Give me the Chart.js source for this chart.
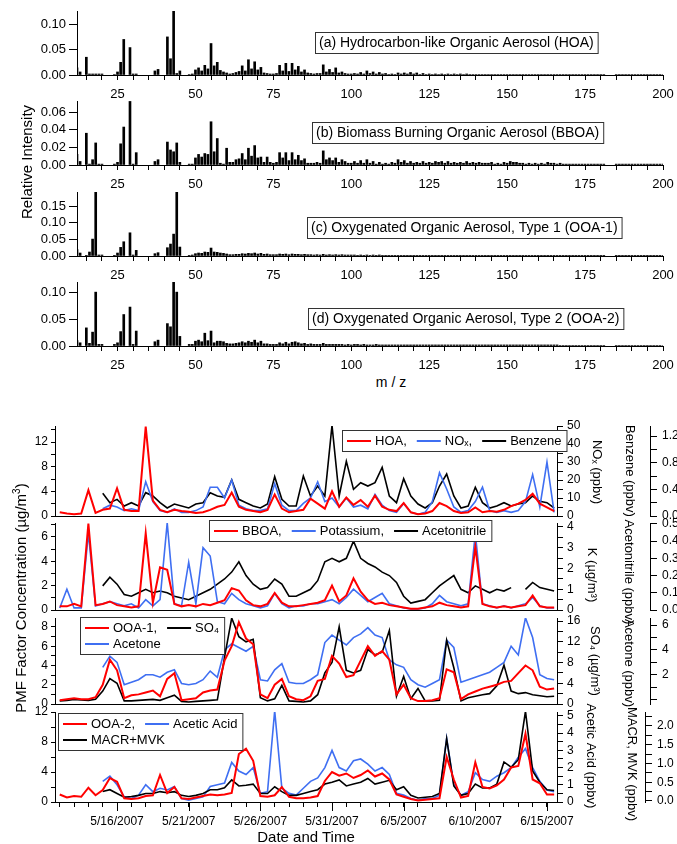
<!DOCTYPE html>
<html>
<head>
<meta charset="utf-8">
<script src="https://cdn.jsdelivr.net/npm/chart.js@4.4.0/dist/chart.umd.min.js"></script>
<style>
  body { margin: 0; background: #fff; }
  #wrap { position: relative; width: 677px; height: 844px; overflow: hidden; font-family: "Liberation Sans", Arial, sans-serif; }
  canvas { position: absolute; left: 0; }
  .lbl { position: absolute; white-space: nowrap; color: #000; transform: translate(-50%, -50%); z-index: 5; }
  .rot { transform: translate(-50%, -50%) rotate(-90deg); }
  .lbl sup { font-size: 10px; }
</style>
</head>
<body>
<div id="wrap">
  <div class="lbl rot" style="left:26px;top:162px;font-size:15px">Relative Intensity</div>
  <div class="lbl" style="left:391px;top:382px;font-size:14px">m / z</div>
  <div class="lbl rot" style="left:20px;top:598px;font-size:15px">PMF Factor Concentration (µg/m<sup>3</sup>)</div>
  <div class="lbl" style="left:306px;top:836px;font-size:15px">Date and Time</div>
</div>
<script>
const FONT = '"Liberation Sans", Arial, sans-serif';
Chart.defaults.font.family = FONT;
Chart.defaults.color = '#000';

const RED = '#ff0000', BLUE = '#3f6ff2', BLACK = '#000000';

// ---- mass spectra, m/z 12..200 ----
const mzFirst = 12;
const mzTicks = [25, 50, 75, 100, 125, 150, 175, 200];

const hoaSpec = [
  0.014, 0.006, null, 0.035, 0.002, 0.002, 0.002, 0.002, 0.002, null,
  null, null, 0.001, 0.006, 0.025, 0.070, null, 0.054, 0.002, 0.002,
  null, null, null, null, null, 0.008, 0.011, null, null, 0.075,
  0.032, 0.126, 0.003, 0.008, null, null, 0.001, 0.002, 0.010, 0.014,
  0.008, 0.019, 0.012, 0.062, 0.018, 0.025, 0.009, 0.006, 0.004, 0.002,
  0.003, 0.005, 0.007, 0.018, 0.008, 0.030, 0.012, 0.026, 0.010, 0.015,
  0.004, 0.003, 0.002, 0.002, 0.003, 0.019, 0.008, 0.023, 0.007, 0.023,
  0.010, 0.017, 0.006, 0.010, 0.004, 0.003, 0.002, 0.003, 0.003, 0.020,
  0.006, 0.011, 0.005, 0.014, 0.004, 0.006, 0.003, 0.002, 0.002, 0.003,
  0.002, 0.005, 0.002, 0.008, 0.003, 0.006, 0.002, 0.005, 0.002, 0.003,
  0.001, 0.002, 0.001, 0.004, 0.002, 0.004, 0.002, 0.005, 0.002, 0.004,
  0.001, 0.003, 0.001, 0.002, 0.001, 0.002, 0.001, 0.002, 0.001, 0.002,
  0.001, 0.002, 0.001, 0.002, 0.001, 0.002, 0.001, 0.001, 0.001, 0.001,
  0.001, 0.001, 0.001, 0.001, 0.001, 0.001, 0.001, 0.001, 0.001, 0.001,
  0.001, 0.001, 0.001, 0.001, 0.001, 0.001, 0.001, 0.001, 0.001, 0.001,
  0.001, 0.001, 0.001, 0.001, 0.001, 0.001, 0.001, 0.001, 0.001, 0.001,
  0.001, 0.001, 0.001, 0.001, 0.001, 0.001, 0.001, 0.001, 0.001, 0.001,
  null, null, null, 0.001, 0.001, 0.001, 0.001, 0.001, 0.001, 0.001,
  0.001, 0.001, 0.001, 0.001, 0.001, 0.001, 0.001, 0.001, 0.001
];

const bboaSpec = [
  0.012, 0.004, null, 0.036, 0.001, 0.006, 0.025, 0.001, 0.001, null,
  null, null, 0.001, 0.003, 0.024, 0.043, null, 0.072, 0.001, 0.014,
  null, null, null, null, null, 0.004, 0.006, null, null, 0.026,
  0.017, 0.015, 0.025, 0.003, null, null, 0.001, 0.001, 0.008, 0.012,
  0.009, 0.013, 0.012, 0.049, 0.015, 0.030, 0.002, 0.001, 0.019, 0.003,
  0.003, 0.006, 0.007, 0.013, 0.006, 0.019, 0.010, 0.022, 0.008, 0.009,
  0.003, 0.009, 0.003, 0.002, 0.003, 0.014, 0.008, 0.014, 0.005, 0.014,
  0.006, 0.011, 0.005, 0.007, 0.002, 0.002, 0.002, 0.003, 0.002, 0.016,
  0.006, 0.008, 0.005, 0.008, 0.003, 0.006, 0.004, 0.002, 0.002, 0.004,
  0.002, 0.005, 0.002, 0.006, 0.002, 0.004, 0.001, 0.003, 0.001, 0.002,
  0.001, 0.003, 0.002, 0.006, 0.003, 0.005, 0.002, 0.004, 0.002, 0.003,
  0.002, 0.004, 0.002, 0.003, 0.002, 0.004, 0.003, 0.004, 0.002, 0.004,
  0.002, 0.003, 0.002, 0.003, 0.002, 0.004, 0.002, 0.003, 0.002, 0.003,
  0.002, 0.002, 0.002, 0.003, 0.001, 0.002, 0.001, 0.003, 0.002, 0.004,
  0.003, 0.003, 0.002, 0.002, 0.001, 0.002, 0.001, 0.002, 0.001, 0.002,
  0.001, 0.003, 0.002, 0.002, 0.001, 0.002, 0.001, 0.001, 0.001, 0.001,
  0.001, 0.001, 0.001, 0.001, 0.001, 0.001, 0.001, 0.001, 0.001, 0.001,
  null, null, null, 0.001, 0.001, 0.001, 0.001, 0.001, 0.001, 0.001,
  0.001, 0.001, 0.001, 0.001, 0.001, 0.001, 0.001, 0.001, 0.001
];

const ooa1Spec = [
  0.019, 0.009, null, 0.002, 0.012, 0.051, 0.193, 0.003, 0.003, null,
  null, null, 0.002, 0.009, 0.026, 0.043, null, 0.070, 0.003, 0.017,
  null, null, null, null, null, 0.007, 0.010, null, null, 0.025,
  0.036, 0.066, 0.193, 0.027, null, null, 0.002, 0.003, 0.007, 0.009,
  0.008, 0.012, 0.011, 0.024, 0.012, 0.011, 0.009, 0.008, 0.006, 0.004,
  0.004, 0.005, 0.005, 0.007, 0.006, 0.008, 0.007, 0.009, 0.006, 0.008,
  0.005, 0.006, 0.004, 0.004, 0.004, 0.006, 0.005, 0.006, 0.004, 0.006,
  0.005, 0.005, 0.004, 0.005, 0.004, 0.004, 0.003, 0.004, 0.003, 0.005,
  0.003, 0.004, 0.003, 0.004, 0.003, 0.004, 0.003, 0.003, 0.003, 0.003,
  0.002, 0.003, 0.002, 0.003, 0.002, 0.003, 0.002, 0.003, 0.002, 0.002,
  0.002, 0.002, 0.002, 0.002, 0.002, 0.002, 0.002, 0.002, 0.002, 0.002,
  0.002, 0.002, 0.002, 0.002, 0.002, 0.002, 0.002, 0.002, 0.002, 0.002,
  0.002, 0.002, 0.002, 0.002, 0.002, 0.002, 0.002, 0.002, 0.002, 0.002,
  0.002, 0.002, 0.002, 0.002, 0.002, 0.002, 0.002, 0.002, 0.002, 0.002,
  0.002, 0.002, 0.002, 0.002, 0.002, 0.001, 0.002, 0.001, 0.002, 0.001,
  0.001, 0.001, 0.001, 0.001, 0.001, 0.001, 0.001, 0.001, 0.001, 0.001,
  0.001, 0.001, 0.001, 0.001, 0.001, 0.001, 0.001, 0.001, 0.001, 0.001,
  null, null, null, 0.001, 0.001, 0.001, 0.001, 0.001, 0.001, 0.001,
  0.001, 0.001, 0.001, 0.001, 0.001, 0.001, 0.001, 0.001, 0.001
];

const ooa2Spec = [
  0.010, 0.006, null, 0.034, 0.005, 0.026, 0.101, 0.003, 0.003, null,
  null, null, 0.003, 0.006, 0.027, 0.059, null, 0.073, 0.003, 0.028,
  null, null, null, null, null, 0.008, 0.011, null, null, 0.042,
  0.036, 0.121, 0.101, 0.018, null, null, 0.003, 0.003, 0.009, 0.011,
  0.008, 0.024, 0.010, 0.028, 0.006, 0.009, 0.009, 0.008, 0.005, 0.004,
  0.004, 0.005, 0.006, 0.008, 0.006, 0.009, 0.007, 0.011, 0.006, 0.009,
  0.004, 0.004, 0.003, 0.003, 0.003, 0.006, 0.004, 0.007, 0.004, 0.007,
  0.008, 0.006, 0.004, 0.005, 0.003, 0.004, 0.003, 0.003, 0.003, 0.005,
  0.003, 0.003, 0.003, 0.003, 0.003, 0.003, 0.002, 0.003, 0.002, 0.003,
  0.003, 0.002, 0.003, 0.002, 0.002, 0.002, 0.003, 0.002, 0.002, 0.002,
  0.002, 0.002, 0.002, 0.002, 0.002, 0.002, 0.002, 0.002, 0.002, 0.002,
  0.002, 0.002, 0.002, 0.002, 0.002, 0.002, 0.002, 0.002, 0.002, 0.002,
  0.002, 0.002, 0.002, 0.002, 0.002, 0.002, 0.002, 0.002, 0.002, 0.002,
  0.002, 0.002, 0.002, 0.002, 0.002, 0.002, 0.002, 0.002, 0.002, 0.002,
  0.002, 0.002, 0.002, 0.002, 0.002, 0.002, 0.002, 0.002, 0.002, 0.002,
  0.002, 0.002, 0.002, 0.002, 0.002, 0.001, 0.001, 0.001, 0.001, 0.001,
  0.001, 0.001, 0.001, 0.001, 0.001, 0.001, 0.001, 0.001, 0.001, 0.001,
  null, null, null, 0.001, 0.001, 0.001, 0.001, 0.001, 0.001, 0.001,
  0.001, 0.001, 0.001, 0.001, 0.001, 0.001, 0.001, 0.001, 0.001
];

const mz = hoaSpec.map((_, i) => mzFirst + i);

// ---- time series, days from 5/16/2007 00:00 ----
const days = [-4, -3.5, -3, -2.5, -2, -1.5, -1, -0.5, 0, 0.5, 1, 1.5, 2, 2.5, 3, 3.5, 4, 4.5, 5, 5.5,
  6, 6.5, 7, 7.5, 8, 8.5, 9, 9.5, 10, 10.5, 11, 11.5, 12, 12.5, 13, 13.5, 14, 14.5, 15, 15.5,
  16, 16.5, 17, 17.5, 18, 18.5, 19, 19.5, 20, 20.5, 21, 21.5, 22, 22.5, 23, 23.5, 24, 24.5, 25, 25.5,
  26, 26.5, 27, 27.5, 28, 28.5, 29, 29.5, 30, 30.5];
const dateTicks = [0, 5, 10, 15, 20, 25, 30];
const dateLabels = ['5/16/2007', '5/21/2007', '5/26/2007', '5/31/2007', '6/5/2007', '6/10/2007', '6/15/2007'];

const hoa = [0.6, 0.4, 0.3, 0.4, 4.2, 0.5, 1.0, 1.2, 4.5, 1.0,
  0.8, 0.8, 14.5, 2.5, 1.0, 0.6, 1.0, 0.8, 0.7, 0.5,
  0.6, 1.0, 1.5, 1.8, 3.8, 1.5, 1.0, 0.8, 0.6, 1.0,
  3.5, 1.2, 0.6, 0.8, 1.0, 2.8, 2.0, 1.2, 4.0, 1.5,
  3.0, 1.8, 2.6, 1.5, 3.3, 1.5, 1.0, 0.8, 2.1, 0.6,
  0.3, 0.4, 0.8, 2.1, 1.6, 0.8, 0.5, 0.6, 1.4, 0.6,
  0.8, 0.7, 1.0, 1.6, 2.0, 2.6, 3.6, 2.0, 1.4, 0.8];
const nox = [null, null, null, null, null, null, 4, 6, 5, 3,
  4, 3, 19, 8, 3, 2, 4, 2, 2, 3,
  5, 16, 16, 10, 20, 6, 4, 3, 3, 4,
  18, 6, 3, 3, 7, 10, 19, 8, 10, 5,
  10, 5, 6, 4, 12, 6, 3, 2, 7, 2,
  1, 2, 8, 24, 15, 5, 2, 3, 8, 16,
  3, 2, 3, 2, 3, 8, 23, 5, 30, 2];
const benzene = [null, null, null, null, null, null, 0.34, 0.2, 0.25, 0.15,
  0.2, 0.15, 0.35, 0.3, 0.2, 0.12, 0.18, 0.15, 0.12, 0.18,
  0.2, 0.35, 0.3, 0.28, 0.54, 0.25, 0.2, 0.15, 0.12, 0.18,
  0.59, 0.25, 0.15, 0.15, 0.6, 0.3, 0.45, 0.3, 1.36, 0.3,
  0.82, 0.4, 0.5, 0.45, 0.5, 0.73, 0.3, 0.2, 0.56, 0.3,
  0.18, 0.12, 0.2, 0.45, 0.63, 0.3, 0.12, 0.15, 0.43, 0.2,
  0.12, 0.15, 0.2, 0.15, 0.18, 0.2, 0.3, 0.22, 0.2, 0.12];

const bboa = [0.3, 0.3, 0.5, 0.3, 7.1, 0.4, 0.5, 0.7, 0.4, 0.3,
  0.2, 0.3, 6.3, 0.6, 3.5, 3.3, 0.5, 0.3, 0.4, 0.3,
  0.5, 0.4, 0.6, 0.8, 1.8, 1.6, 0.8, 0.4, 0.3, 0.5,
  1.4, 0.6, 0.3, 0.3, 0.4, 0.5, 0.6, 0.8, 2.0, 0.7,
  1.2, 2.6, 1.5, 0.8, 0.5, 0.6, 0.4, 0.3, 0.2, 0.1,
  0.1, 0.2, 0.3, 0.6, 0.4, 0.3, 0.2, 0.3, 5.2, 0.5,
  0.3, 0.2, 0.3, 0.2, 0.3, 0.4, 1.2, 0.3, 0.2, 0.2];
const potassium = [0.1, 1.0, 0.1, 0.1, 3.7, 0.2, 0.3, 0.4, 0.3, 0.2,
  0.3, 0.1, 0.5, 0.2, 0.5, 4.2, 0.3, 0.2, 2.3, 0.3,
  3.0, 2.6, 0.4, 0.3, 0.8, 0.5, 0.3, 0.2, 0.1, 0.2,
  0.8, 0.3, 0.1, 0.2, 0.2, 0.3, 0.3, 0.4, 0.5, 0.3,
  0.6, 1.0, 0.7, 0.4, 0.6, 0.8, 0.3, 0.2, 0.1, 0.05,
  0.05, 0.1, 0.3, 0.7, 0.4, 0.3, 0.2, 0.3, 3.7, 0.3,
  0.2, 0.1, 0.2, 0.1, 0.2, 0.3, 0.6, 0.2, 0.1, 0.1];
const acetonitrile = [null, null, null, null, null, null, 0.14, 0.19, 0.15, 0.09,
  0.08, 0.1, 0.12, 0.1, 0.11, 0.1, 0.08, 0.07, 0.06, 0.08,
  0.1, 0.12, 0.15, 0.18, 0.22, 0.28, 0.2, 0.15, 0.12, 0.13,
  0.18, 0.15, 0.08, 0.08, 0.1, 0.12, 0.17, 0.28, 0.3, 0.28,
  0.3, 0.4, 0.3, 0.27, 0.25, 0.22, 0.2, 0.16, 0.08, 0.04,
  0.05, 0.06, 0.1, 0.14, 0.17, 0.2, 0.12, 0.1, 0.14, 0.12,
  0.1, 0.12, 0.11, 0.13, null, 0.12, 0.16, 0.13, 0.12, 0.11];

const ooa1 = [0.4, 0.5, 0.6, 0.5, 0.5, 0.7, 2.0, 4.6, 3.5, 0.6,
  0.9, 1.0, 1.2, 1.4, 0.8, 2.6, 3.2, 0.4, 0.5, 0.6,
  1.2, 1.4, 1.5, 4.5, 6.0, 8.5, 6.8, 6.2, 1.0, 0.6,
  2.0, 2.6, 0.8, 0.5, 0.4, 0.8, 2.4, 2.6, 5.0, 4.2,
  2.8, 3.0, 4.5, 6.0, 5.0, 5.5, 4.6, 1.0, 2.0, 0.6,
  0.3, 0.3, 0.4, 0.6, 3.6, 3.3, 0.5, 1.0, 1.3, 1.6,
  1.8, 2.0, 2.3, 2.4, 3.2, 4.0, 3.5, 1.8, 1.5, 1.6];
const so4 = [0.6, 0.7, 0.9, 0.8, 0.7, 0.9, 2.5, 4.9, 4.0, 0.6,
  0.6, 0.7, 0.8, 0.9, 0.7, 1.2, 1.7, 0.5, 0.4, 0.5,
  0.6, 0.7, 0.8, 9.0, 16.6, 13.0, 12.0, 12.5, 1.2, 0.6,
  1.0, 3.6, 0.6, 0.5, 0.4, 0.6, 1.8, 6.0, 8.0, 14.9,
  6.5, 6.0, 6.5, 10.5, 9.5, 10.0, 14.2, 1.5, 5.3, 1.0,
  3.0, 0.6, 0.6, 0.7, 12.3, 7.0, 0.6, 1.2, 1.5, 1.8,
  2.0, 3.5, 7.5, 2.5, 2.0, 2.2, 1.8, 1.6, 1.4, 1.5];
const acetone = [null, null, null, null, null, null, 2.6, 3.5, 3.0, 1.2,
  1.4, 1.6, 2.0, 2.0, 1.8, 2.2, 2.4, 1.3, 1.2, 1.3,
  1.6, 2.3, 1.8, 4.0, 4.5, 4.2, 3.9, 4.3, 1.6, 1.5,
  2.4, 2.9, 1.4, 1.3, 1.3, 1.6, 2.0, 4.6, 5.2, 4.8,
  4.4, 5.0, 5.3, 5.8, 5.2, 5.0, 3.2, 2.8, 2.6, 1.6,
  1.2, 1.0, 1.3, 1.6, 4.8, 4.2, 1.4, 1.6, 1.8, 2.0,
  2.2, 2.6, 3.0, 4.3, 3.6, 6.6, 5.0, 2.0, 1.7, 1.6];

const ooa2 = [1.0, 0.6, 0.8, 0.7, 1.9, 0.9, 1.6, 3.2, 2.7, 0.5,
  0.4, 0.5, 0.8, 0.9, 3.6, 1.2, 2.0, 0.5, 0.4, 0.6,
  0.8, 1.0, 0.9, 1.0, 1.2, 6.4, 7.1, 5.5, 0.8, 0.7,
  0.9, 2.0, 0.7, 0.5, 0.5, 0.6, 0.8, 2.8, 4.0, 3.5,
  3.8, 3.2, 3.6, 4.2, 3.4, 3.8, 3.0, 1.0, 0.7, 0.4,
  0.2, 0.3, 0.4, 0.5, 6.0, 3.0, 0.6, 0.8, 5.3, 2.0,
  1.8, 2.2, 3.0, 4.6, 4.8, 9.1, 3.0, 2.5, 1.0, 1.0];
const aceticAcid = [null, null, null, null, null, null, 1.2, 1.5, 1.0, 0.3,
  0.2, 0.4, 1.0, 0.6, 0.8, 0.7, 0.9, 0.2, 0.1, 0.2,
  0.3, 0.9, 1.0, 1.1, 2.3, 1.8, 1.6, 2.0, 0.5, 0.6,
  5.3, 0.8, 0.5, 0.4, 0.8, 1.2, 1.4, 2.0, 3.0, 2.0,
  1.8, 2.4, 2.5, 2.2, 1.8, 2.0, 1.6, 0.5, 0.4, 0.2,
  0.1, 0.2, 0.2, 0.4, 3.7, 1.0, 0.4, 0.6, 1.7, 1.3,
  1.2, 1.5, 1.7, 2.0, 2.6, 3.1, 2.0, 1.2, 0.7, 0.6];
const macrMvk = [null, null, null, null, null, null, 0.25, 0.3, 0.2, 0.1,
  0.12, 0.15, 0.2, 0.2, 0.25, 0.22, 0.25, 0.15, 0.12, 0.15,
  0.2, 0.3, 0.3, 0.35, 0.56, 0.4, 0.42, 0.45, 0.2, 0.2,
  0.38, 0.25, 0.15, 0.15, 0.2, 0.25, 0.3, 0.45, 0.5, 0.56,
  0.4, 0.45, 0.5, 0.6, 0.45, 0.5, 0.55, 0.3, 0.38, 0.15,
  0.08, 0.1, 0.12, 0.2, 1.66, 0.4, 0.15, 0.2, 0.45, 0.35,
  0.35, 0.45, 1.04, 0.9, 1.1, 2.39, 0.8, 0.5, 0.3, 0.28];

// ---- helpers ----
function onStep(v, step) {
  return Math.abs(v / step - Math.round(v / step)) < 1e-6;
}

// tick positions at whole multiples of step inside [min, max]
function stepTicks(min, max, step) {
  const list = [];
  for (let k = Math.ceil(min / step - 1e-9); k * step <= max + 1e-9; k++) {
    list.push({ value: Number((k * step).toFixed(6)) });
  }
  return list;
}

function yScale(o) {
  return {
    type: 'linear', position: o.pos, min: o.min, max: o.max, bounds: 'data',
    ticks: {
      autoSkip: false, padding: o.pad, font: { size: o.fs },
      callback: v => (onStep(v, o.lab) && !(o.skip0 && v === 0)) ? v.toFixed(o.dec) : ''
    },
    grid: { drawOnChartArea: false, drawTicks: true, tickLength: o.tl, tickColor: '#000' },
    border: { display: true, color: '#000', width: 1 },
    afterBuildTicks: s => { s.ticks = stepTicks(o.min, o.max, o.step); },
    afterFit: s => { s.width = o.w; s.paddingTop = 0; s.paddingBottom = 0; }
  };
}

// titles, legend boxes, spectrum captions and long date ticks are drawn here
function extras(cfg) {
  return {
    id: 'extras',
    afterDraw(chart) {
      const ctx = chart.ctx;
      if (cfg.majorTicks) {
        const s = chart.scales.x;
        ctx.save();
        ctx.strokeStyle = '#000';
        ctx.lineWidth = 1;
        cfg.majorTicks.forEach(v => {
          const x = Math.round(s.getPixelForValue(v)) + 0.5;
          ctx.beginPath();
          ctx.moveTo(x, s.top);
          ctx.lineTo(x, s.top + 9);
          ctx.stroke();
        });
        ctx.restore();
      }
      (cfg.titles || []).forEach(t => {
        ctx.save();
        ctx.translate(t.x, t.y);
        ctx.rotate(Math.PI / 2);
        ctx.font = '13px ' + FONT;
        ctx.fillStyle = '#000';
        ctx.textAlign = 'center';
        ctx.textBaseline = 'middle';
        ctx.fillText(t.text, 0, 0);
        ctx.restore();
      });
      if (cfg.note) {
        const n = cfg.note;
        ctx.save();
        ctx.font = '14px ' + FONT;
        const w = ctx.measureText(n.text).width + 8;
        ctx.fillStyle = '#fff';
        ctx.fillRect(n.x, n.y, w, 21);
        ctx.strokeStyle = '#333';
        ctx.lineWidth = 1;
        ctx.strokeRect(n.x + 0.5, n.y + 0.5, w, 21);
        ctx.fillStyle = '#000';
        ctx.textBaseline = 'middle';
        ctx.fillText(n.text, n.x + 4, n.y + 11.5);
        ctx.restore();
      }
      if (cfg.legend) {
        const L = cfg.legend;
        ctx.save();
        ctx.font = '13px ' + FONT;
        const widths = L.rows.map(r => r.reduce((s, e) => s + 28 + ctx.measureText(e.text).width + 10, 0) - 10);
        const W = Math.max(...widths) + 10, H = L.rows.length * 16 + 5;
        ctx.fillStyle = '#fff';
        ctx.fillRect(L.x, L.y, W, H);
        ctx.strokeStyle = '#333';
        ctx.lineWidth = 1;
        ctx.strokeRect(L.x + 0.5, L.y + 0.5, W, H);
        ctx.textBaseline = 'middle';
        L.rows.forEach((r, k) => {
          let x = L.x + 5;
          const y = L.y + 11 + k * 16;
          r.forEach(e => {
            ctx.strokeStyle = chart.data.datasets[e.i].borderColor;
            ctx.lineWidth = 2;
            ctx.beginPath();
            ctx.moveTo(x, y);
            ctx.lineTo(x + 24, y);
            ctx.stroke();
            ctx.fillStyle = '#000';
            ctx.fillText(e.text, x + 28, y);
            x += 28 + ctx.measureText(e.text).width + 10;
          });
        });
        ctx.restore();
      }
    }
  };
}

function makeCanvas(top, h) {
  const c = document.createElement('canvas');
  c.width = 677;
  c.height = h;
  c.style.top = top + 'px';
  document.getElementById('wrap').appendChild(c);
  return c;
}

const baseOpts = {
  responsive: false, animation: false, devicePixelRatio: 1, events: [],
  plugins: { legend: { display: false }, tooltip: { enabled: false } }
};

// ---- spectra ----
function specChart(top, vals, ymax, ystep, caption, cx, cy) {
  const c = makeCanvas(top - 8, 100);
  new Chart(c, {
    type: 'bar',
    data: {
      datasets: [{
        data: mz.map((m, i) => ({ x: m, y: vals[i] })),
        backgroundColor: '#000', borderWidth: 0, barThickness: 2
      }]
    },
    options: Object.assign({}, baseOpts, {
      layout: { padding: { top: 8, left: 0, right: 14, bottom: 0 } },
      scales: {
        x: {
          type: 'linear', min: 12, max: 200, bounds: 'data', offset: false,
          ticks: {
            autoSkip: false, maxRotation: 0, minRotation: 0,
            padding: 7, font: { size: 13 },
            callback: v => mzTicks.includes(v) ? String(v) : ''
          },
          grid: { offset: false, drawOnChartArea: false, tickLength: 5, tickColor: '#000' },
          border: { display: true, color: '#000', width: 1 },
          afterBuildTicks: s => { s.ticks = stepTicks(12, 200, 5); },
          afterFit: s => { s.height = 28; s.paddingLeft = 0; s.paddingRight = 0; }
        },
        y: yScale({ pos: 'left', min: 0, max: ymax, step: ystep, lab: ystep, dec: 2, w: 77, tl: 8, pad: 3, fs: 13 })
      }
    }),
    plugins: [extras({ note: { text: caption, x: cx, y: cy - (top - 8) } })]
  });
}

specChart(11, hoaSpec, 0.126, 0.05, '(a) Hydrocarbon-like Organic Aerosol (HOA)', 315, 32);
specChart(101, bboaSpec, 0.0725, 0.02, '(b) Biomass Burning Organic Aerosol (BBOA)', 312, 122);
specChart(192, ooa1Spec, 0.193, 0.05, '(c) Oxygenated Organic Aerosol, Type 1 (OOA-1)', 307, 217);
specChart(282, ooa2Spec, 0.12, 0.05, '(d) Oxygenated Organic Aerosol, Type 2 (OOA-2)', 308, 308);

// ---- time series ----
function timeX(last) {
  return {
    type: 'linear', min: -4.33, max: 30.7, bounds: 'data',
    ticks: {
      display: last, autoSkip: false, maxRotation: 0, minRotation: 0,
      padding: 7, font: { size: 12 },
      callback: v => { const k = dateTicks.indexOf(v); return k >= 0 ? dateLabels[k] : ''; }
    },
    grid: { drawOnChartArea: false, drawTicks: last, tickLength: 5, tickColor: '#000' },
    border: { display: true, color: '#000', width: 1 },
    afterBuildTicks: s => { s.ticks = stepTicks(-4.33, 30.7, 1); },
    afterFit: s => { s.height = last ? 30 : 1; s.paddingLeft = 0; s.paddingRight = 0; }
  };
}

const PAD = 20;

function tsChart(p) {
  const canvasTop = p.top - PAD;
  const c = makeCanvas(canvasTop, PAD + p.h + (p.last ? 44 : 1 + PAD));
  const datasets = p.series.map(s => ({
    data: days.map((t, i) => ({ x: t, y: s.v[i] })),
    borderColor: s.c, borderWidth: s.bw, pointRadius: 0, tension: 0,
    spanGaps: false, yAxisID: s.ax
  }));
  new Chart(c, {
    type: 'line',
    data: { datasets },
    options: Object.assign({}, baseOpts, {
      layout: { padding: { top: PAD, left: 0, right: 0, bottom: p.last ? 14 : PAD } },
      scales: {
        x: timeX(p.last),
        yl: yScale(Object.assign({ pos: 'left', w: 55, tl: 4, pad: 3, fs: 12 }, p.yl)),
        yr: yScale(Object.assign({ pos: 'right', w: p.rw || 93, tl: 6, pad: 4, fs: 12 }, p.yr)),
        yr2: yScale(Object.assign({ pos: 'right', w: 120 - (p.rw || 93), tl: 7, pad: 5, fs: 12 }, p.yr2))
      }
    }),
    plugins: [extras({
      majorTicks: p.last ? dateTicks : null,
      titles: p.titles.map(t => ({ text: t.text, x: t.x, y: t.y - canvasTop })),
      legend: { x: p.legend.x, y: p.legend.y - canvasTop, rows: p.legend.rows }
    })]
  });
}

tsChart({
  top: 426, h: 90, last: false,
  series: [
    { v: hoa, c: RED, bw: 2, ax: 'yl' },
    { v: nox, c: BLUE, bw: 1.6, ax: 'yr' },
    { v: benzene, c: BLACK, bw: 1.6, ax: 'yr2' }
  ],
  yl: { min: 0, max: 14.6, step: 2, lab: 4, dec: 0 },
  yr: { min: 0, max: 50, step: 5, lab: 10, dec: 0 },
  yr2: { min: 0, max: 1.35, step: 0.2, lab: 0.4, dec: 1 },
  titles: [{ text: 'NOₓ (ppbv)', x: 597, y: 472 }, { text: 'Benzene (ppbv)', x: 630, y: 471 }],
  legend: { x: 342, y: 430, rows: [[{ i: 0, text: 'HOA,' }, { i: 1, text: 'NOₓ,' }, { i: 2, text: 'Benzene' }]] }
});

tsChart({
  top: 523, h: 87, last: false,
  series: [
    { v: bboa, c: RED, bw: 2, ax: 'yl' },
    { v: potassium, c: BLUE, bw: 1.6, ax: 'yr' },
    { v: acetonitrile, c: BLACK, bw: 1.6, ax: 'yr2' }
  ],
  yl: { min: 0, max: 7.15, step: 1, lab: 2, dec: 0 },
  yr: { min: 0, max: 4.19, step: 0.5, lab: 1, dec: 0 },
  yr2: { min: 0, max: 0.505, step: 0.1, lab: 0.1, dec: 1 },
  titles: [{ text: 'K (µg/m³)', x: 592, y: 575 }, { text: 'Acetonitrile (ppbv)', x: 629, y: 572 }],
  legend: { x: 209, y: 520, rows: [[{ i: 0, text: 'BBOA,' }, { i: 1, text: 'Potassium,' }, { i: 2, text: 'Acetonitrile' }]] }
});

tsChart({
  top: 618, h: 86, last: false,
  series: [
    { v: ooa1, c: RED, bw: 2, ax: 'yl' },
    { v: so4, c: BLACK, bw: 1.6, ax: 'yr' },
    { v: acetone, c: BLUE, bw: 1.6, ax: 'yr2' }
  ],
  yl: { min: 0, max: 8.93, step: 1, lab: 2, dec: 0 },
  yr: { min: 0, max: 16.6, step: 2, lab: 4, dec: 0 },
  yr2: { min: -0.36, max: 6.58, step: 1, lab: 2, dec: 0, skip0: true },
  titles: [{ text: 'SO₄ (µg/m³)', x: 595, y: 661 }, { text: 'Acetone (ppbv)', x: 629, y: 663 }],
  legend: { x: 80, y: 617, rows: [[{ i: 0, text: 'OOA-1,' }, { i: 1, text: 'SO₄' }], [{ i: 2, text: 'Acetone' }]] }
});

tsChart({
  top: 712, h: 90, last: true, rw: 88,
  series: [
    { v: ooa2, c: RED, bw: 2, ax: 'yl' },
    { v: macrMvk, c: BLACK, bw: 1.6, ax: 'yr2' },
    { v: aceticAcid, c: BLUE, bw: 1.6, ax: 'yr' }
  ],
  yl: { min: 0, max: 12, step: 2, lab: 4, dec: 0 },
  yr: { min: 0, max: 5.23, step: 0.5, lab: 1, dec: 0 },
  yr2: { min: -0.027, max: 2.37, step: 0.25, lab: 0.5, dec: 1 },
  titles: [{ text: 'Acetic Acid (ppbv)', x: 591, y: 756 }, { text: 'MACR, MVK (ppbv)', x: 632, y: 764 }],
  legend: { x: 58, y: 713, rows: [[{ i: 0, text: 'OOA-2,' }, { i: 2, text: 'Acetic Acid' }], [{ i: 1, text: 'MACR+MVK' }]] }
});
</script>
</body>
</html>
